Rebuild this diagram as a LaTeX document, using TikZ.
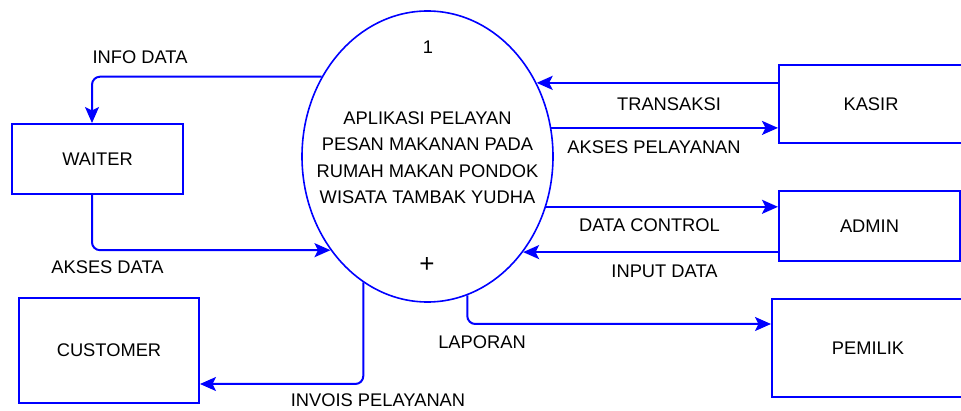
\documentclass[tikz,border=0pt]{standalone}
\usepackage{fontspec}
\setmainfont{Liberation Sans}
\usetikzlibrary{shapes,arrows.meta}
\tikzset{entitas/.style = {draw=blue, line width=2pt, rectangle, inner sep=0pt},
  alir/.style = {draw=blue, line width=2pt, rounded corners=8pt,
    -{Stealth[length=16pt, width=14pt, inset=3.5pt]}},
  ket/.style = {inner sep=0pt}}

\begin{document}
\begin{tikzpicture}[x=1pt, y=-1pt, font=\fontsize{18.3}{26.5}\selectfont]
        \useasboundingbox (0,0) rectangle (961,411);
        \node[ellipse, draw=blue, line width=1.6pt, inner sep=0pt,
          minimum width=251pt, minimum height=291pt] (proses) at (427.5,156.5) {};
        \node[ket, align=center] (judul) at (427.5,157.5)
          {APLIKASI PELAYAN\\PESAN MAKANAN PADA\\RUMAH MAKAN PONDOK\\WISATA TAMBAK YUDHA};
        \node[ket] (nomor) at (428,47) {1};
        \node[ket, font=\fontsize{26}{26}\selectfont] (tanda) at (427,265) {+};
        \node[entitas, minimum width=171pt, minimum height=70pt] (waiter) at (97.5,159) {WAITER};
        \node[entitas, minimum width=180pt, minimum height=105pt] (customer) at (109,350.5) {CUSTOMER};
        \node[entitas, minimum width=184pt, minimum height=78pt] (kasir) at (871,104) {KASIR};
        \node[entitas, minimum width=181pt, minimum height=70pt] (admin) at (869.5,226) {ADMIN};
        \node[entitas, minimum width=192pt, minimum height=98pt] (pemilik) at (868,348) {PEMILIK};
        \draw[alir] (proses.143.9) -| ([xshift=-5.5pt]waiter.north);
        \draw[alir] ([xshift=-5.5pt]waiter.south) |- (proses.224.2);
        \draw[alir] (kasir.west |- proses.34.2) -- (proses.34.2);
        \draw[alir] (proses.13.5) -- (kasir.west |- proses.13.5);
        \draw[alir] (proses.337.7) -- (admin.west |- proses.337.7);
        \draw[alir] (admin.west |- proses.315.8) -- (proses.315.8);
        \draw[alir] (proses.286.8) |- ([yshift=24pt]pemilik.west);
        \draw[alir] (proses.243.2) |- ([yshift=-33.5pt]customer.east);
        \node[ket] (ketinfo) at (140,57) {INFO DATA};
        \node[ket] (ketakses) at (107.5,267) {AKSES DATA};
        \node[ket] (kettransaksi) at (669,104) {TRANSAKSI};
        \node[ket] (ketpelayanan) at (654,147.5) {AKSES PELAYANAN};
        \node[ket] (ketcontrol) at (649.5,225.5) {DATA CONTROL};
        \node[ket] (ketinput) at (664.5,271) {INPUT DATA};
        \node[ket] (ketlaporan) at (482,342) {LAPORAN};
        \node[ket] (ketinvois) at (378,400.5) {INVOIS PELAYANAN};
\end{tikzpicture}
\end{document}
